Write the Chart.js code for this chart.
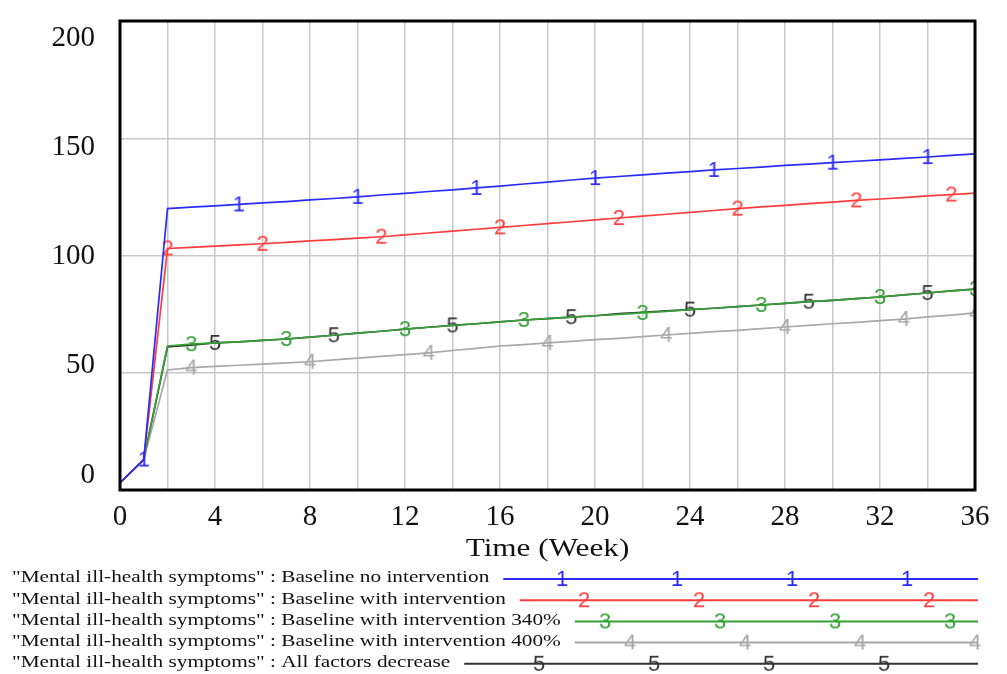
<!DOCTYPE html>
<html>
<head>
<meta charset="utf-8">
<script src="https://cdn.jsdelivr.net/npm/chart.js@4.4.0/dist/chart.umd.min.js"></script>
<style>
  html, body { margin: 0; padding: 0; background: #fff; }
  #wrap { width: 1007px; height: 674px; position: relative; }
</style>
</head>
<body>
<div id="wrap"><canvas id="myChart"></canvas></div>
<script>
// weeks 0..36
var weeks = [0,1,2,3,4,5,6,7,8,9,10,11,12,13,14,15,16,17,18,19,20,21,22,23,24,25,26,27,28,29,30,31,32,33,34,35,36];

var baselineNo = [3,13,120,120.6,121.2,121.8,122.4,123,123.7,124.3,125,125.8,126.5,127.3,128,128.8,129.6,130.5,131.3,132.2,133,133.7,134.4,135.1,135.8,136.5,137.1,137.7,138.4,139,139.6,140.2,140.8,141.4,142,142.7,143.3];
var baselineWith = [3,13,103,103.5,104,104.5,105,105.6,106.2,106.8,107.4,108,108.8,109.6,110.4,111.2,112,112.8,113.6,114.4,115.2,116,116.8,117.6,118.4,119.2,120,120.7,121.4,122.1,122.8,123.5,124.1,124.7,125.4,126,126.6];
var with340 = [3,13,61.4,62.2,62.7,63.2,63.8,64.4,65.2,66,66.9,67.7,68.6,69.4,70.2,70.9,71.7,72.5,73.1,73.7,74.3,74.9,75.5,76.2,76.9,77.5,78.2,78.9,79.6,80.3,80.9,81.6,82.3,83.2,84,84.9,85.7];
var with400 = [3,13,51.2,52.2,52.7,53.2,53.7,54.2,54.7,55.5,56.2,57,57.7,58.5,59.5,60.4,61.4,62,62.7,63.4,64.1,64.7,65.4,66.1,66.8,67.5,68.1,68.8,69.5,70.2,70.9,71.5,72.2,72.9,73.8,74.6,75.5];
var allDecrease = [3,13,61,61.8,62.7,63.2,63.8,64.4,65.2,66,66.9,67.7,68.6,69.4,70.2,70.9,71.7,72.5,73.1,73.7,74.3,75.2,75.8,76.4,76.9,77.5,78.2,78.9,79.6,80.3,80.9,81.6,82.3,83.2,84,84.9,85.7];

var seriesNames = [
  '"Mental ill-health symptoms" : Baseline no intervention',
  '"Mental ill-health symptoms" : Baseline with intervention',
  '"Mental ill-health symptoms" : Baseline with intervention 340%',
  '"Mental ill-health symptoms" : Baseline with intervention 400%',
  '"Mental ill-health symptoms" : All factors decrease'
];
var seriesValues = [baselineNo, baselineWith, with340, with400, allDecrease];
var seriesColors = ['#2b2bff', '#ff3c3c', '#35a035', '#a8a8a8', '#333333'];
var markerWeeks = [
  [1,5,10,15,20,25,30,34],
  [2,6,11,16,21,26,31,35],
  [3,7,12,17,22,27,32,36],
  [3,8,13,18,23,28,33,36],
  [4,9,14,19,24,29,34]
];
var xLabelWeeks = [0,4,8,12,16,20,24,28,32,36];
var yTicks = [0,50,100,150,200];

function digitCanvas(d, color) {
  var cv = document.createElement('canvas');
  cv.width = 18; cv.height = 28;
  var c = cv.getContext('2d');
  c.font = '22px "Liberation Sans"';
  c.fillStyle = color;
  c.textAlign = 'center';
  c.textBaseline = 'middle';
  c.fillText(d, 9, 15);
  return cv;
}
var digitImgs = seriesColors.map(function (col, i) { return digitCanvas(String(i + 1), col); });

var datasets = seriesValues.map(function (vals, i) {
  return {
    label: seriesNames[i],
    data: weeks.map(function (w, k) { return { x: w, y: vals[k] }; }),
    borderColor: seriesColors[i],
    backgroundColor: seriesColors[i],
    borderWidth: 1.7,
    tension: 0,
    pointRadius: function (ctx) { return markerWeeks[i].indexOf(weeks[ctx.dataIndex]) >= 0 ? 4 : 0; },
    pointStyle: digitImgs[i]
  };
});

var framePlugin = {
  id: 'frame',
  afterDatasetsDraw: function (chart) {
    var a = chart.chartArea, c = chart.ctx;
    c.save();
    c.strokeStyle = '#000';
    c.lineWidth = 3;
    c.strokeRect(a.left, a.top, a.right - a.left, a.bottom - a.top);
    c.restore();
  }
};

// y labels Vensim style: spread a bit inside the top/bottom grid lines
var yLabelPlugin = {
  id: 'yLabels',
  afterDraw: function (chart) {
    var s = chart.scales.y, c = chart.ctx;
    var yTop = s.getPixelForValue(200) + 17;
    var yBot = s.getPixelForValue(0) - 15;
    c.save();
    c.fillStyle = '#111';
    c.font = '29px "Liberation Serif"';
    c.textAlign = 'right';
    c.textBaseline = 'middle';
    yTicks.forEach(function (v) {
      c.fillText(String(v), s.right - 25, yBot + (yTop - yBot) * v / 200);
    });
    c.restore();
  }
};

// legend rows in Vensim style, plus x axis title
var legendPlugin = {
  id: 'vensimLegend',
  afterDraw: function (chart) {
    var c = chart.ctx;
    var a = chart.chartArea;
    c.save();
    c.fillStyle = '#111';
    c.font = '26px "Liberation Serif"';
    c.textBaseline = 'middle';
    c.textAlign = 'center';
    c.save();
    c.translate((a.left + a.right) / 2, 549);
    c.scale(1.2, 1);
    c.fillText('Time (Week)', 0, 0);
    c.restore();

    var firstMark = [562, 584, 605, 630, 539];
    for (var i = 0; i < seriesNames.length; i++) {
      var y = 578 + i * 21.2;
      c.font = '16.5px "Liberation Serif"';
      c.textAlign = 'left';
      c.fillStyle = '#111';
      c.save();
      c.translate(12, y);
      c.scale(1.29, 1);
      c.fillText(seriesNames[i], 0, 0);
      c.restore();
      var tw = c.measureText(seriesNames[i]).width * 1.29;
      c.strokeStyle = seriesColors[i];
      c.lineWidth = 2;
      c.beginPath();
      c.moveTo(12 + tw + 14, y + 1);
      c.lineTo(978, y + 1);
      c.stroke();
      for (var k = 0; k < 4; k++) {
        var img = digitImgs[i];
        c.drawImage(img, firstMark[i] + k * 115 - img.width / 2, y + 1 - img.height / 2);
      }
    }
    c.restore();
  }
};

var ctx = document.getElementById('myChart').getContext('2d');
new Chart(ctx, {
  type: 'line',
  data: { datasets: datasets },
  options: {
    responsive: true,
    maintainAspectRatio: false,
    animation: false,
    layout: { padding: { left: 0, top: 21, right: 32, bottom: 0 } },
    plugins: { legend: { display: false }, tooltip: { enabled: false } },
    scales: {
      x: {
        type: 'linear',
        min: 0, max: 36,
        afterFit: function (s) { s.height = 184; },
        grid: { color: '#c8c8c8', lineWidth: 1.5, drawTicks: false },
        border: { display: false },
        ticks: {
          stepSize: 2,
          autoSkip: false,
          maxRotation: 0,
          padding: 10,
          color: '#111',
          font: { family: 'Liberation Serif', size: 29 },
          callback: function (v) { return xLabelWeeks.indexOf(v) >= 0 ? String(v) : ''; }
        }
      },
      y: {
        min: 0, max: 200,
        afterFit: function (s) { s.width = 120; },
        afterBuildTicks: function (s) { s.ticks = yTicks.map(function (v) { return { value: v }; }); },
        grid: { color: '#c8c8c8', lineWidth: 1.5, drawTicks: false },
        border: { display: false },
        ticks: { display: false }
      }
    }
  },
  plugins: [framePlugin, yLabelPlugin, legendPlugin]
});
</script>
</body>
</html>
